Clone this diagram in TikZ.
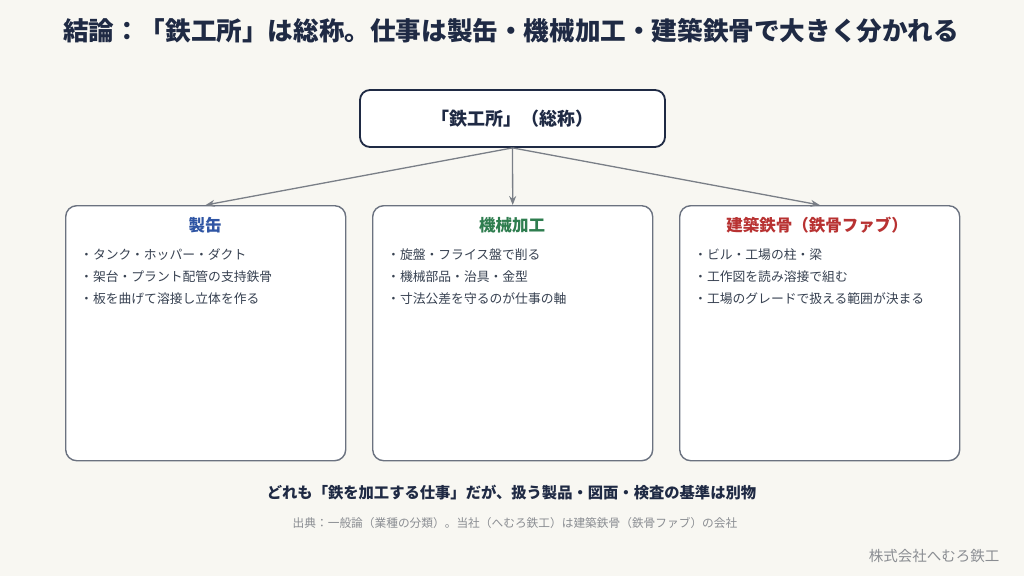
\documentclass[tikz,border=0pt]{standalone}
\usepackage{fontspec}
\setmainfont{Noto Sans CJK JP}
\usetikzlibrary{arrows.meta}
\usetikzlibrary{positioning}

\definecolor{bgpaper}{HTML}{F8F7F2}
\definecolor{navy}{HTML}{1F2A44}
\definecolor{framegray}{HTML}{6B7280}
\definecolor{linkgray}{HTML}{7A7F87}
\definecolor{bodytext}{HTML}{374151}
\definecolor{headblue}{HTML}{2F55A4}
\definecolor{headgreen}{HTML}{2E7D4F}
\definecolor{headred}{HTML}{B83232}
\definecolor{notegray}{HTML}{8A8D92}

\tikzset{
	topbox/.style={draw=navy,line width=1.8pt,fill=white,rounded corners=10pt,
		minimum width=305pt,minimum height=57pt,font=\bfseries\fontsize{18}{20}\selectfont,text=navy},
	kindbox/.style={draw=framegray,line width=1.4pt,fill=white,rounded corners=11pt,
		minimum width=280pt,minimum height=255pt,anchor=north west},
	kindhead/.style={font=\bfseries\fontsize{16.5}{18}\selectfont},
	kinditem/.style={anchor=west,font=\fontsize{12.8}{14}\selectfont,text=bodytext,inner sep=0pt},
	link/.style={draw=linkgray,line width=1.3pt,-{Stealth[length=9pt,width=7pt]}}
}

\begin{document}
\begin{tikzpicture}[x=1pt,y=-1pt]
	\fill[bgpaper] (0,0) rectangle (1024,576);
	\useasboundingbox (0,0) rectangle (1024,576);
	
	\node[font=\bfseries\fontsize{25.6}{28}\selectfont,text=navy] (title) at (511,31)
		{結論：「鉄工所」は総称。仕事は製缶・機械加工・建築鉄骨で大きく分かれる};
	
	\node[topbox] (root) at (512.5,118.5) {「鉄工所」（総称）};
	
	\node[kindbox] (can) at (65,205) {};
	\node[kindbox] (mach) at (372,205) {};
	\node[kindbox] (steel) at (679,205) {};
	
	\draw[link] (root.south) -- (can.north);
	\draw[link] (root.south) -- (mach.north);
	\draw[link] (root.south) -- (steel.north);
	
	\node[kindhead,text=headblue] (canhead) at (205,225) {製缶};
	\node[kindhead,text=headgreen] (machhead) at (512,225) {機械加工};
	\node[kindhead,text=headred] (steelhead) at (817,225) {建築鉄骨（鉄骨ファブ）};
	
	\node[kinditem] (can1) at (80,255) {・タンク・ホッパー・ダクト};
	\node[kinditem] (can2) at (80,277) {・架台・プラント配管の支持鉄骨};
	\node[kinditem] (can3) at (80,299) {・板を曲げて溶接し立体を作る};
	
	\node[kinditem] (mach1) at (387,255) {・旋盤・フライス盤で削る};
	\node[kinditem] (mach2) at (387,277) {・機械部品・治具・金型};
	\node[kinditem] (mach3) at (387,299) {・寸法公差を守るのが仕事の軸};
	
	\node[kinditem] (steel1) at (694,255) {・ビル・工場の柱・梁};
	\node[kinditem] (steel2) at (694,277) {・工作図を読み溶接で組む};
	\node[kinditem] (steel3) at (694,299) {・工場のグレードで扱える範囲が決まる};
	
	\node[font=\bfseries\fontsize{15.3}{17}\selectfont,text=navy] (summary) at (511.5,493)
		{どれも「鉄を加工する仕事」だが、扱う製品・図面・検査の基準は別物};
	\node[font=\fontsize{11.7}{13}\selectfont,text=notegray] (source) at (515,523)
		{出典：一般論（業種の分類）。当社（へむろ鉄工）は建築鉄骨（鉄骨ファブ）の会社};
	\node[font=\fontsize{14.5}{16}\selectfont,text=notegray,anchor=east] (company) at (1003,556)
		{株式会社へむろ鉄工};
\end{tikzpicture}
\end{document}
